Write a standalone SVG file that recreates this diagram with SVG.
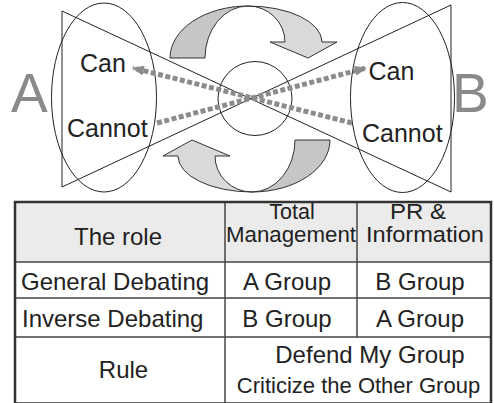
<svg xmlns="http://www.w3.org/2000/svg" width="494" height="403" viewBox="0 0 494 403">
<style>
  .ln{fill:none;stroke:#222;stroke-width:1}
  .dot{fill:none;stroke:#8c8c8c;stroke-width:5;stroke-dasharray:5 2.5}
  .t{font-family:"Liberation Sans",Arial,Helvetica,sans-serif;fill:#222;font-size:24px}
  .h{font-size:21.5px}
  .c{text-anchor:middle}
  .big{font-family:"Liberation Sans",Arial,Helvetica,sans-serif;fill:#8a8a8a;font-size:55px}
  .dk{fill:#c6c6c6;stroke:#333;stroke-width:1}
  .lt{fill:#d9d9d9;stroke:#333;stroke-width:1}
  .grid{stroke:#444;stroke-width:1.5;fill:none}
</style>
<defs>
  <marker id="ah" viewBox="0 0 12 10" refX="11" refY="5" markerWidth="12" markerHeight="10" markerUnits="userSpaceOnUse" orient="auto">
    <path d="M0,0 L12,5 L0,10 Z" fill="#8c8c8c"/>
  </marker>
  <g id="curv">
    <path class="dk" d="M170,58 A78,52 0 0 1 248,6 A43,52 0 0 0 205,58 Z"/>
    <path class="lt" d="M248,6 A74,36 0 0 1 322,42 L337,42 L308,58 L270,42 L285,42 A37,36 0 0 0 248,6 Z"/>
  </g>
</defs>

<g id="arrow-top"><use href="#curv"/></g>
<g id="arrow-bottom"><use href="#curv" transform="rotate(180 250 99)"/></g>

<g id="group-A">
  <ellipse class="ln" cx="104" cy="97.5" rx="52.5" ry="94.5"/>
  <text class="big" x="11" y="112">A</text>
  <text class="t" x="80" y="72" style="font-size:25px">Can</text>
  <text class="t" x="67" y="137" style="font-size:25px">Cannot</text>
</g>
<g id="group-B">
  <ellipse class="ln" cx="402.5" cy="97.5" rx="52" ry="95"/>
  <text class="big" x="452" y="112">B</text>
  <text class="t" x="368.5" y="80" style="font-size:25px">Can</text>
  <text class="t" x="362" y="142" style="font-size:25px">Cannot</text>
</g>
<g id="center">
  <circle class="ln" cx="255" cy="98.5" r="37"/>
</g>

<g id="connectors">
  <path class="ln" d="M62,11 L451,192 L451,5 L62,187 Z"/>
  <line class="dot" x1="157" y1="123" x2="366" y2="68" marker-end="url(#ah)"/>
  <line class="dot" x1="352" y1="123" x2="133" y2="68" marker-end="url(#ah)"/>
</g>

<g id="table">
  <rect x="15" y="202" width="476" height="60" fill="#ebebeb"/>
  <line class="grid" x1="15" y1="262" x2="491" y2="262"/>
  <line class="grid" x1="15" y1="298" x2="491" y2="298"/>
  <line class="grid" x1="15" y1="337" x2="491" y2="337"/>
  <line class="grid" x1="225" y1="202" x2="225" y2="403"/>
  <line class="grid" x1="357" y1="202" x2="357" y2="337"/>
  <rect x="15" y="202" width="476" height="201.5" fill="none" stroke="#333" stroke-width="2.5"/>
  <text class="t c" x="118" y="245">The role</text>
  <text class="t h c" x="292" y="218.5">Total</text>
  <text class="t h c" x="291" y="242" textLength="130" lengthAdjust="spacingAndGlyphs">Management</text>
  <text class="t h c" x="418" y="218.5" textLength="56" lengthAdjust="spacingAndGlyphs">PR &amp;</text>
  <text class="t h c" x="425" y="242" textLength="118" lengthAdjust="spacingAndGlyphs">Information</text>
  <text class="t" x="21" y="290">General Debating</text>
  <text class="t c" x="287" y="290">A Group</text>
  <text class="t c" x="420" y="290">B Group</text>
  <text class="t" x="22" y="327">Inverse Debating</text>
  <text class="t c" x="287" y="327">B Group</text>
  <text class="t c" x="420" y="327">A Group</text>
  <text class="t c" x="123.5" y="378">Rule</text>
  <text class="t c" x="370" y="363">Defend My Group</text>
  <text class="t c" x="358.5" y="393" style="font-size:22px">Criticize the Other Group</text>
</g>
</svg>
